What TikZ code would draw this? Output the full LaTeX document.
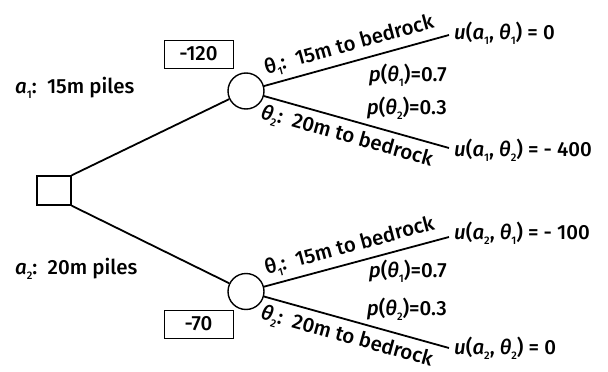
\documentclass[tikz,border=0pt]{standalone}
\usepackage{fontspec}
\setmainfont{Fira Sans}[UprightFont=* Medium, ItalicFont=* Medium Italic]
\newcommand{\mysub}[1]{\raisebox{-0.45ex}{\fontsize{11}{11}\selectfont #1}}
\newcommand{\thi}{\textit{θ}}
\newcommand{\thu}{θ}
\begin{document}
\begin{tikzpicture}[x=1pt,y=-1pt,
  lbl/.style={font=\fontsize{20.5}{23}\selectfont, inner sep=1pt},
  ln/.style={line width=1.8pt},
  valbox/.style={draw, line width=1pt, minimum width=69pt, minimum height=28pt, inner sep=0pt, font=\fontsize{20.5}{23}\selectfont},
  chance/.style={draw, circle, line width=1.4pt, minimum size=36pt, inner sep=0pt},
  decision/.style={draw, rectangle, line width=1.4pt, minimum width=34pt, minimum height=29pt, inner sep=0pt}]
\useasboundingbox (0,0) rectangle (608,372);
\node[decision] (sq) at (54,190.5) {};
\node[chance] (c1) at (246,91) {};
\node[chance] (c2) at (246,291.5) {};
\node[valbox] (v1) at (198.5,54) {-120};
\node[valbox] (v2) at (198.5,324) {-70};
\node[lbl, anchor=west] (a1) at (14,88) {\textit{a}\mysub{1}:\, 15m piles};
\node[lbl, anchor=west] (a2) at (14,269) {\textit{a}\mysub{2}:\, 20m piles};
\draw[ln] (sq.north east) -- (c1);
\draw[ln] (sq.south east) -- (c2);
\coordinate (e11) at (449,35);
\coordinate (e12) at (449,148);
\coordinate (e21) at (449,237);
\coordinate (e22) at (449,348);
\draw[ln] (c1) -- (e11) node[lbl, pos=0.02, sloped, anchor=south west, inner ysep=5pt] (t11) {\thu\mysub{1}:\, 15m to bedrock};
\draw[ln] (c1) -- (e12) node[lbl, pos=0.0, sloped, anchor=north west, inner ysep=6pt] (t12) {\thi\mysub{2}:\, 20m to bedrock};
\draw[ln] (c2) -- (e21) node[lbl, pos=0.02, sloped, anchor=south west, inner ysep=5pt] (t21) {\thu\mysub{1}:\, 15m to bedrock};
\draw[ln] (c2) -- (e22) node[lbl, pos=0.0, sloped, anchor=north west, inner ysep=6pt] (t22) {\thi\mysub{2}:\, 20m to bedrock};
\node[lbl, anchor=east] (p11) at (448,75) {\textit{p}(\thi\mysub{1})=0.7};
\node[lbl, anchor=east] (p12) at (448,108) {\textit{p}(\thi\mysub{2})=0.3};
\node[lbl, anchor=east] (p21) at (448,271) {\textit{p}(\thi\mysub{1})=0.7};
\node[lbl, anchor=east] (p22) at (448,309) {\textit{p}(\thi\mysub{2})=0.3};
\node[lbl, anchor=west] (u11) at (453,33) {\textit{u}(\textit{a}\mysub{1}, \thi\mysub{1}) = 0};
\node[lbl, anchor=west] (u12) at (453,150) {\textit{u}(\textit{a}\mysub{1}, \thi\mysub{2}) = - 400};
\node[lbl, anchor=west] (u21) at (453,233) {\textit{u}(\textit{a}\mysub{2}, \thi\mysub{1}) = - 100};
\node[lbl, anchor=west] (u22) at (453,348) {\textit{u}(\textit{a}\mysub{2}, \thi\mysub{2}) = 0};
\end{tikzpicture}
\end{document}
